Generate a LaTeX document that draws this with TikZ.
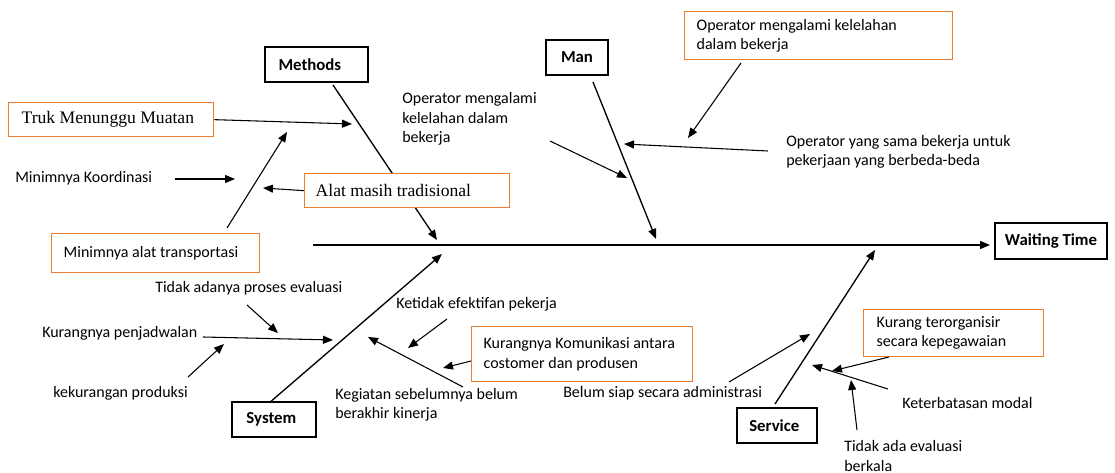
\documentclass[tikz,border=0pt]{standalone}
\usepackage{fontspec}
\setmainfont{Carlito}
\newfontfamily\timesfont{Liberation Serif}
\usetikzlibrary{arrows.meta}
\definecolor{boxorange}{RGB}{237,125,49}
\begin{document}
\begin{tikzpicture}[x=0.75pt,y=-0.75pt,
  font=\fontsize{12}{14.5}\selectfont,
  bone/.style={line width=1pt,-{Triangle[length=7.5pt,width=6pt]}},
  arr/.style={line width=0.8pt,-{Triangle[length=7.5pt,width=6pt]}},
  catbox/.style={draw=black,line width=1pt,fill=white,inner sep=0pt,font=\fontsize{12.6}{15}\selectfont\bfseries},
  obox/.style={draw=boxorange,line width=1pt,fill=white,align=flush left,anchor=north west,inner ysep=0pt},
  serifbox/.style={obox,font=\timesfont\fontsize{13.2}{15}\selectfont},
  lbl/.style={anchor=west,align=left,inner sep=0pt}
]
\fill[white] (0,0) rectangle (1115,473);
\useasboundingbox (0,0) rectangle (1115,473);

% bone coordinates
\coordinate (mb1) at (333,85);   \coordinate (mb2) at (437,240);
\coordinate (nb1) at (593,82);   \coordinate (nb2) at (656,239);
\coordinate (sb2) at (442,254);
\coordinate (vb1) at (775,404);  \coordinate (vb2) at (875,250);
\coordinate (sp1) at (313,245);  \coordinate (sp2) at (990,245);

% bones (drawn first, boxes cover them)
\draw[bone] (mb1) -- (mb2);
\draw[bone] (nb1) -- (nb2);
\draw[bone] (vb1) -- (vb2);
\draw[bone] (sp1) -- (sp2);

% category boxes
\node[catbox,minimum width=77.25pt,minimum height=26.25pt] (methods) at (316.5,64.5) {Methods\hspace*{10pt}};
\node[catbox,minimum width=46.5pt,minimum height=26.25pt] (man) at (577,57.5) {Man};
\node[catbox,minimum width=84pt,minimum height=27pt] (wt) at (1051,241) {Waiting Time};
\node[catbox,minimum width=63pt,minimum height=26.25pt] (system) at (274,419.5) {System\hspace*{4pt}};
\node[catbox,minimum width=60pt,minimum height=26.25pt] (service) at (777,425.5) {Service\hspace*{4pt}};

\draw[bone] (system.north) ++(-3,0) -- (sb2);

% orange boxes
\node[serifbox,text width=134.25pt,inner xsep=9.75pt,minimum height=25.5pt] (truk) at (8,102) {Truk Menunggu Muatan};
\node[serifbox,text width=137.25pt,inner xsep=8.25pt,minimum height=25.5pt] (alat) at (304,173) {Alat masih tradisional};
\node[obox,text width=138pt,inner xsep=9pt,minimum height=29.25pt] (trans) at (51,233) {Minimnya alat transportasi\\[3pt]};
\node[obox,text width=183pt,inner xsep=9pt,minimum height=36pt] (opbox) at (684,11) {Operator mengalami kelelahan\\dalam bekerja};
\node[obox,text width=147.75pt,inner xsep=9pt,minimum height=41.25pt] (kom) at (471,326) {Kurangnya Komunikasi antara\\costomer dan produsen};
\node[obox,text width=115.5pt,inner xsep=9.75pt,minimum height=35.25pt] (org) at (863,309) {Kurang terorganisir\\secara kepegawaian};

% plain labels
\node[lbl] (koord) at (15,178) {Minimnya Koordinasi};
\node[lbl] (op1) at (402,119) {Operator mengalami\\kelelahan dalam\\bekerja};
\node[lbl] (op2) at (786,152) {Operator yang sama bekerja untuk\\pekerjaan yang berbeda-beda};
\node[lbl] (evalu) at (155,288) {Tidak adanya proses evaluasi};
\node[lbl] (jadwal) at (42,333) {Kurangnya penjadwalan};
\node[lbl] (prod) at (53,393) {kekurangan produksi};
\node[lbl] (efek) at (396,304) {Ketidak efektifan pekerja};
\node[lbl] (kegiatan) at (335,405) {Kegiatan sebelumnya belum\\berakhir kinerja};
\node[lbl] (admin) at (563,393) {Belum siap secara administrasi};
\node[lbl] (modal) at (902,403) {Keterbatasan modal};
\node[lbl] (berkala) at (844,456) {Tidak ada evaluasi\\berkala};

% arrow coordinates
\coordinate (a1e) at (352,124);
\coordinate (a2s) at (175,179);  \coordinate (a2e) at (235,179);
\coordinate (a3e) at (263,188);
\coordinate (a4s) at (227,228);  \coordinate (a4e) at (287,132);
\coordinate (a5s) at (550,141);  \coordinate (a5e) at (627,178);
\coordinate (a6s) at (768,151);  \coordinate (a6e) at (624,144);
\coordinate (a7s) at (741,63);   \coordinate (a7e) at (688,138);
\coordinate (a8s) at (247,305);  \coordinate (a8e) at (278,333);
\coordinate (a9s) at (203,337);  \coordinate (a9e) at (333,340);
\coordinate (a10s) at (188,377); \coordinate (a10e) at (224,344);
\coordinate (a11s) at (447,319); \coordinate (a11e) at (408,348);
\coordinate (a12s) at (463,387); \coordinate (a12e) at (368,337);
\coordinate (a13s) at (471,361); \coordinate (a13e) at (443,368);
\coordinate (a14s) at (729,382); \coordinate (a14e) at (810,334);
\coordinate (a15s) at (889,357); \coordinate (a15e) at (832,371);
\coordinate (a16s) at (888,389); \coordinate (a16e) at (812,365);
\coordinate (a17s) at (857,430); \coordinate (a17e) at (851,380);

% arrows
\draw[arr] (truk.east) -- (a1e);
\draw[arr] (a2s) -- (a2e);
\draw[arr] (alat.west) -- (a3e);
\draw[arr] (a4s) -- (a4e);
\draw[arr] (a5s) -- (a5e);
\draw[arr] (a6s) -- (a6e);
\draw[arr] (a7s) -- (a7e);
\draw[arr] (a8s) -- (a8e);
\draw[arr] (a9s) -- (a9e);
\draw[arr] (a10s) -- (a10e);
\draw[arr] (a11s) -- (a11e);
\draw[arr] (a12s) -- (a12e);
\draw[arr] (a13s) -- (a13e);
\draw[arr] (a14s) -- (a14e);
\draw[arr] (a15s) -- (a15e);
\draw[arr] (a16s) -- (a16e);
\draw[arr] (a17s) -- (a17e);
\end{tikzpicture}
\end{document}
